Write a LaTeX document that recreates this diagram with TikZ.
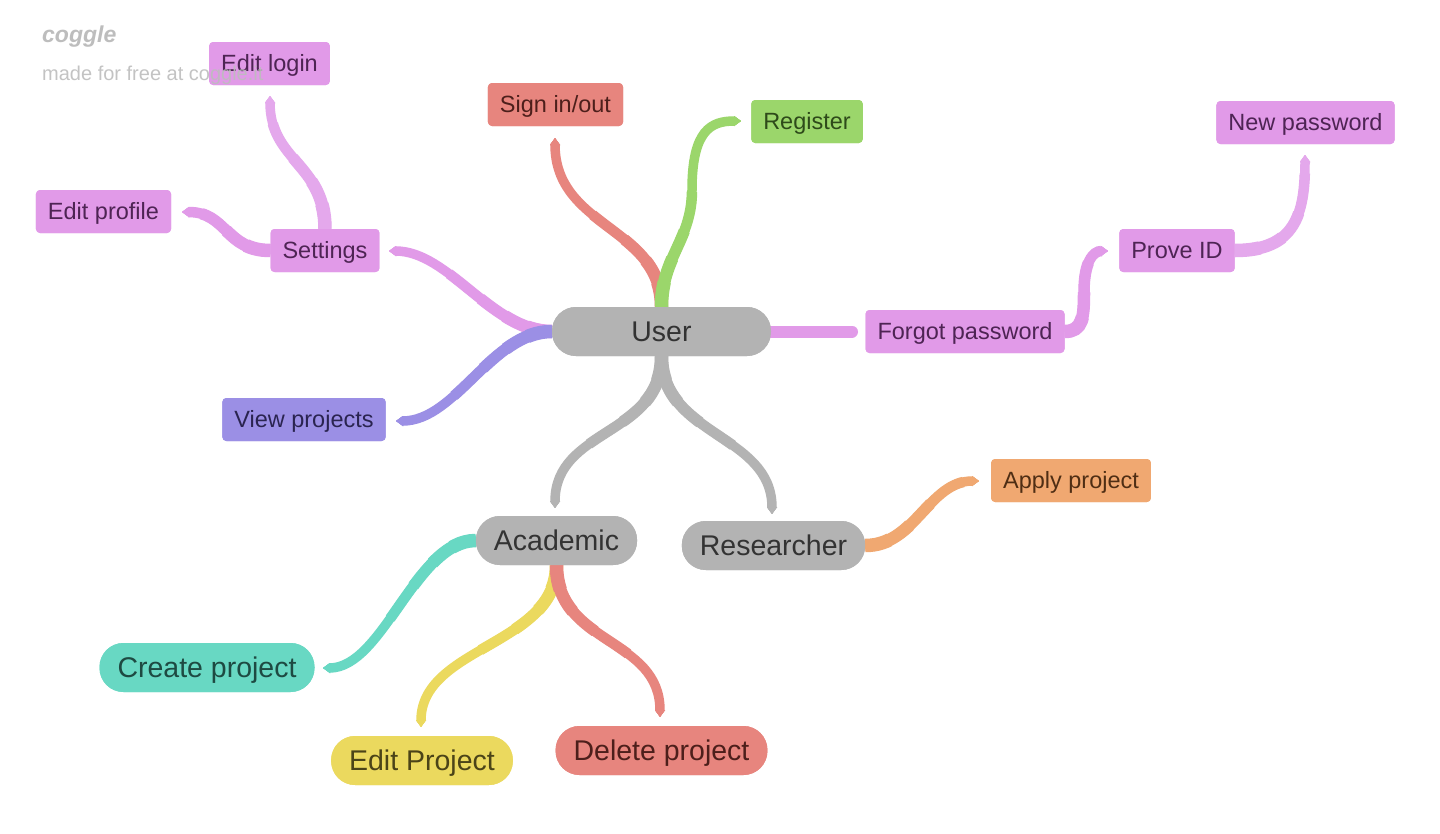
\documentclass[tikz,border=0pt]{standalone}
\usepackage{fontspec}
\setmainfont{Liberation Sans}
\usetikzlibrary{arrows.meta}
\definecolor{pinkF}{HTML}{E19AE8}\definecolor{pinkT}{HTML}{4E2454}\definecolor{pinkL}{HTML}{E4A8EC}
\definecolor{salF}{HTML}{E7857E}\definecolor{salT}{HTML}{4D1F1B}
\definecolor{grnF}{HTML}{9BD66B}\definecolor{grnT}{HTML}{2E4A1A}
\definecolor{bluF}{HTML}{9B8FE5}\definecolor{bluT}{HTML}{2A2450}
\definecolor{gryF}{HTML}{B3B3B3}\definecolor{gryT}{HTML}{333333}
\definecolor{tealF}{HTML}{68D8C3}\definecolor{tealT}{HTML}{1E4A42}
\definecolor{yelF}{HTML}{EBD95E}\definecolor{yelT}{HTML}{4B4418}
\definecolor{orgF}{HTML}{F0A871}\definecolor{orgT}{HTML}{4F2E14}
\definecolor{wm}{HTML}{BDBDBD}
\tikzset{ribtip/.style={-{Triangle[length=7pt,width=9.5pt]}}}
\newcommand\ribbon[2]{%
  \draw[#1,ribtip,line width=13.5pt,dash pattern=on 25pt off 3000pt] #2;
  \draw[#1,ribtip,line width=12.5pt,dash pattern=on 50pt off 3000pt] #2;
  \draw[#1,ribtip,line width=11.5pt,dash pattern=on 80pt off 3000pt] #2;
  \draw[#1,ribtip,line width=10.5pt,dash pattern=on 120pt off 3000pt] #2;
  \draw[#1,ribtip,line width=9.5pt] #2;
}
\begin{document}
\begin{tikzpicture}[x=1pt,y=-1pt,
  box/.style={rectangle,rounded corners=4pt,inner xsep=12pt,inner ysep=0pt,minimum height=43pt,text height=16.8pt,text depth=0pt,font=\fontsize{23.5}{26}\selectfont},
  pill/.style={rectangle,rounded corners=24pt,inner xsep=18pt,inner ysep=0pt,minimum height=49pt,text height=20.4pt,text depth=0pt,font=\fontsize{28.5}{32}\selectfont},
  pinkbox/.style={box,fill=pinkF,text=pinkT},
  salbox/.style={box,fill=salF,text=salT},
  grnbox/.style={box,fill=grnF,text=grnT},
  blubox/.style={box,fill=bluF,text=bluT},
  orgbox/.style={box,fill=orgF,text=orgT},
  graypill/.style={pill,fill=gryF,text=gryT},
  tealpill/.style={pill,fill=tealF,text=tealT},
  yelpill/.style={pill,fill=yelF,text=yelT},
  salpill/.style={pill,fill=salF,text=salT}]
\useasboundingbox (0,0) rectangle (1440,833);
\fill[white] (0,0) rectangle (1440,833);

% node placement (drawn again on top of connectors)
\path
  node[graypill,minimum width=219pt] (user) at (661.5,331.5) {User}
  node[pinkbox] (editlogin) at (269.5,63.5) {Edit login}
  node[salbox] (signin) at (555.5,104.5) {Sign in/out}
  node[grnbox] (register) at (807,121.5) {Register}
  node[pinkbox] (newpw) at (1305.5,122.5) {New password}
  node[pinkbox] (editprofile) at (103.5,211.5) {Edit profile}
  node[pinkbox] (settings) at (325,250.5) {Settings}
  node[pinkbox] (prove) at (1177,250.5) {Prove ID}
  node[pinkbox] (forgot) at (965,331.5) {Forgot password}
  node[blubox] (view) at (304,419.5) {View projects}
  node[orgbox] (apply) at (1071,480.5) {Apply project}
  node[graypill] (academic) at (556.5,540.5) {Academic}
  node[graypill] (researcher) at (773.5,545.5) {Researcher}
  node[tealpill] (create) at (207,667.5) {Create project}
  node[yelpill] (editproj) at (422,760.5) {Edit Project}
  node[salpill] (delete) at (661.5,750.5) {Delete project};

% connector end points
\coordinate (c1) at (555,138);
\coordinate (r1) at (692,190);
\coordinate (c2) at (741,121);
\coordinate (c3) at (389,251);
\coordinate (c4) at (396,421);
\coordinate (c5) at (852,331.5);
\coordinate (c6) at (555,508);
\coordinate (c7) at (772,514);
\coordinate (c8) at (270,96);
\coordinate (c9) at (182,212);
\coordinate (p1) at (1084,292);
\coordinate (c10) at (1108,251);
\coordinate (c11) at (1305,155);
\coordinate (c12) at (979,481);
\coordinate (c13) at (323,668);
\coordinate (c14) at (421,727);
\coordinate (c15) at (660,717);

\ribbon{salF}{(user.north) .. controls +(0,-80) and +(0,90) .. (c1)}
\ribbon{grnF}{(user.north) .. controls +(0,-50) and +(0,50) .. (r1) .. controls +(0,-60) and +(-30,0) .. (c2)}
\ribbon{pinkF}{(user.west) .. controls +(-60,0) and +(60,0) .. (c3)}
\ribbon{bluF}{(user.west) .. controls +(-60,0) and +(60,0) .. (c4)}
\draw[pinkF,line width=12pt,line cap=round] (user.east) -- (c5);
\ribbon{gryF}{(user.south) .. controls +(0,80) and +(0,-80) .. (c6)}
\ribbon{gryF}{(user.south) .. controls +(0,80) and +(0,-80) .. (c7)}
\ribbon{pinkL}{(settings.north) .. controls +(0,-65) and +(0,65) .. (c8)}
\ribbon{pinkF}{(settings.west) .. controls +(-45,0) and +(45,0) .. (c9)}
\ribbon{pinkF}{(forgot.east) .. controls +(18,0) and +(0,25) .. (p1) .. controls +(0,-30) and +(-15,0) .. (c10)}
\ribbon{pinkL}{(prove.east) .. controls +(60,0) and +(0,60) .. (c11)}
\ribbon{orgF}{(researcher.east) .. controls +(50,0) and +(-50,0) .. (c12)}
\ribbon{tealF}{(academic.west) .. controls +(-60,0) and +(60,0) .. (c13)}
\ribbon{yelF}{(academic.south) .. controls +(0,80) and +(0,-80) .. (c14)}
\ribbon{salF}{(academic.south) .. controls +(0,80) and +(0,-80) .. (c15)}

% redraw nodes on top of connectors
\node[graypill,minimum width=219pt] at (user) {User};
\node[pinkbox] at (editlogin) {Edit login};
\node[salbox] at (signin) {Sign in/out};
\node[grnbox] at (register) {Register};
\node[pinkbox] at (newpw) {New password};
\node[pinkbox] at (editprofile) {Edit profile};
\node[pinkbox] at (settings) {Settings};
\node[pinkbox] at (prove) {Prove ID};
\node[pinkbox] at (forgot) {Forgot password};
\node[blubox] at (view) {View projects};
\node[orgbox] at (apply) {Apply project};
\node[graypill] at (academic) {Academic};
\node[graypill] at (researcher) {Researcher};
\node[tealpill] at (create) {Create project};
\node[yelpill] at (editproj) {Edit Project};
\node[salpill] at (delete) {Delete project};

% watermark
\node[anchor=west,inner sep=0pt,text=wm,font=\fontsize{23}{26}\selectfont\bfseries\itshape] (logo) at (42,37) {coggle};
\node[anchor=base west,inner sep=0pt,text=wm,opacity=0.9,font=\fontsize{20}{23}\selectfont] (made) at (42,80) {made for free at coggle.it};
\end{tikzpicture}
\end{document}
